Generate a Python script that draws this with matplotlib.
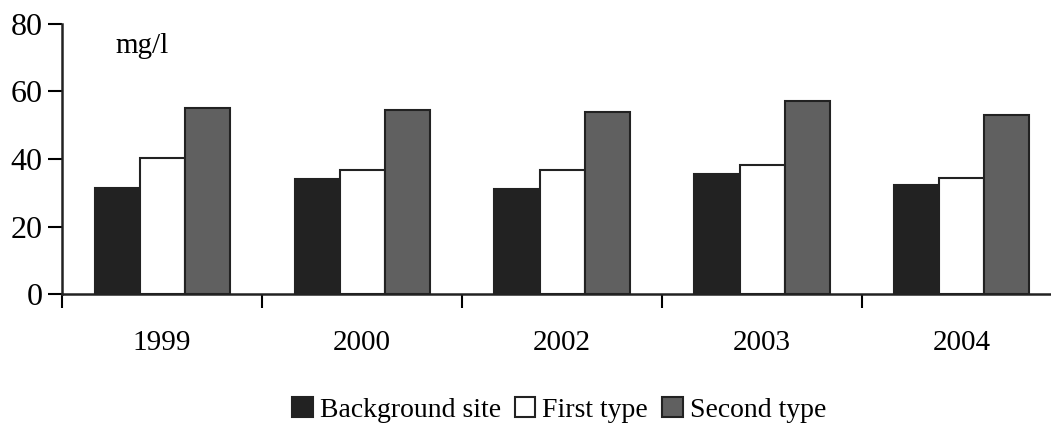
import matplotlib.pyplot as plt
import numpy as np
from matplotlib.patches import Patch

years = ["1999", "2000", "2002", "2003", "2004"]
background = [31.4, 34.1, 31.1, 35.5, 32.3]
first_type = [40.3, 36.7, 36.6, 38.2, 34.4]
second_type = [55.0, 54.5, 54.0, 57.2, 53.0]
series_names = ["Background site", "First type", "Second type"]
colors = ["#222222", "#ffffff", "#606060"]

plt.rcParams['font.family'] = ['Liberation Serif', 'DejaVu Serif']

fig = plt.figure(figsize=(10.51, 4.26), dpi=100)
ax = fig.add_axes([62 / 1051, 1 - 294 / 426, 1000 / 1051, 270 / 426])

x = np.arange(len(years))
w = 0.225
for i, vals in enumerate([background, first_type, second_type]):
    ax.bar(x + (i - 1) * w, vals, w, color=colors[i], edgecolor="#222222",
           linewidth=1.5, label=series_names[i], zorder=2)

ax.set_xlim(-0.5, len(years) - 0.5)
ax.set_ylim(0, 80)
ax.set_yticks([0, 20, 40, 60, 80])
ax.tick_params(axis='y', labelsize=23, length=10, width=1.5, direction='out', pad=4)

# major ticks sit between groups, labels on minor ticks at group centres
ax.set_xticks(np.arange(len(years) + 1) - 0.5)
ax.set_xticklabels([])
ax.set_xticks(x, minor=True)
ax.set_xticklabels(years, minor=True)
ax.tick_params(axis='x', which='major', length=10, width=1.5, direction='out')
ax.tick_params(axis='x', which='minor', length=0, labelsize=21, pad=26)

for s in ['top', 'right']:
    ax.spines[s].set_visible(False)
for s in ['left', 'bottom']:
    ax.spines[s].set_linewidth(1.8)
    ax.spines[s].set_color("#222222")

ax.text(-0.235, 73.5, "mg/l", fontsize=21, ha='left', va='center')

handles = [Patch(facecolor=colors[i], edgecolor="#222222", linewidth=1.5,
                 label=series_names[i]) for i in range(3)]
fig.legend(handles=handles, loc='center', bbox_to_anchor=(559 / 1051, 1 - 410 / 426),
           ncol=3, frameon=False, fontsize=20, handlelength=0.75, handleheight=0.75,
           handletextpad=0.25, columnspacing=0.5)

fig.savefig("out.png", dpi=100)
